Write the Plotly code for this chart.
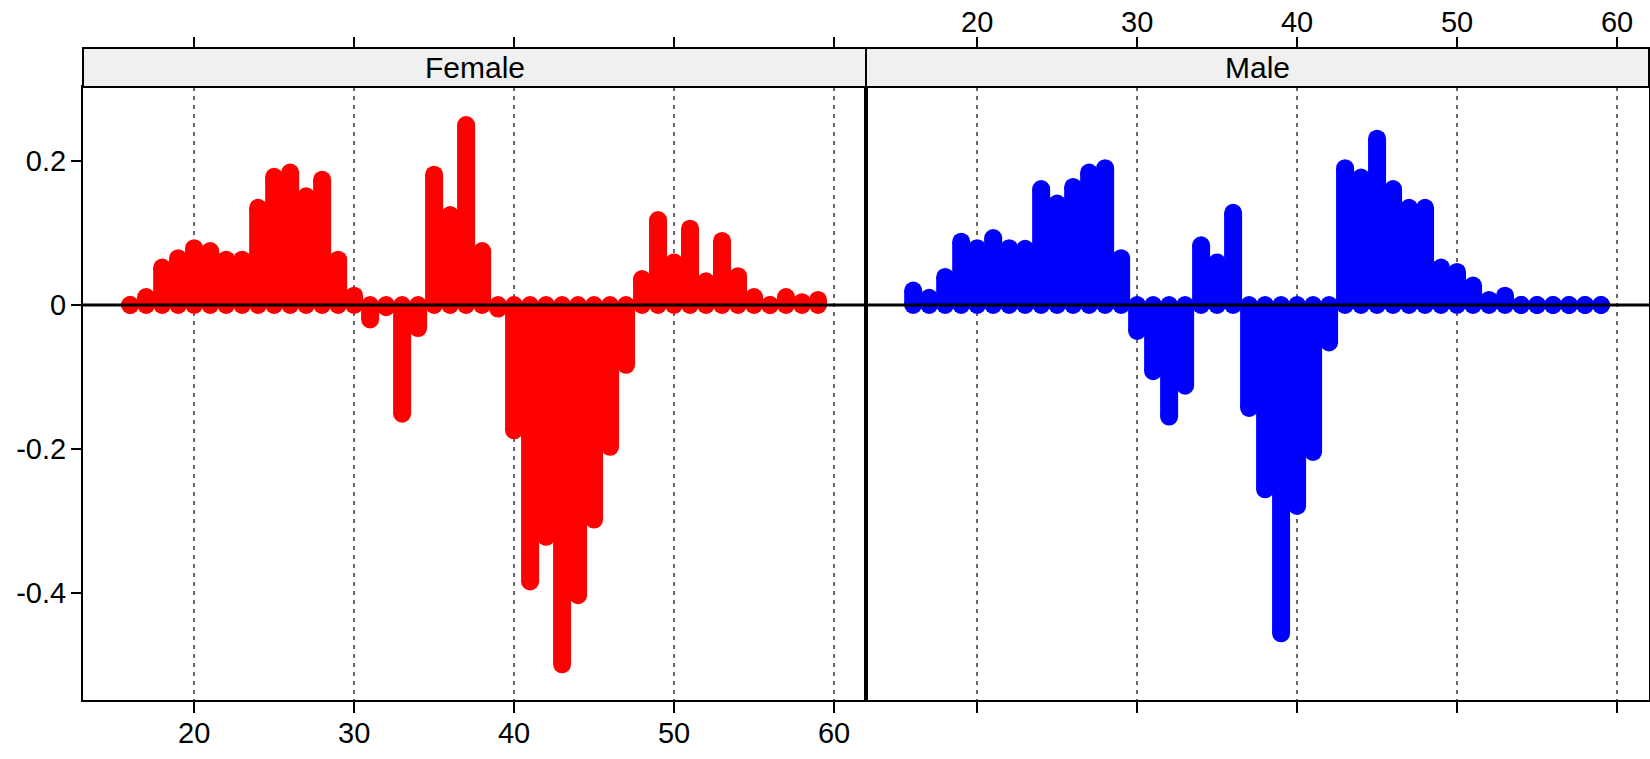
import plotly.graph_objects as go

# Age values shared by both panels
ages = list(range(16, 60))

# Per-age values, one list per panel
female = [0.0, 0.011, 0.052, 0.065, 0.079, 0.075, 0.063, 0.063, 0.135, 0.178,
          0.184, 0.151, 0.174, 0.063, 0.013, -0.020, -0.003, -0.151, -0.032, 0.181,
          0.125, 0.250, 0.075, -0.005, -0.174, -0.384, -0.322, -0.499, -0.403, -0.298,
          -0.197, -0.083, 0.036, 0.118, 0.059, 0.106, 0.033, 0.089, 0.040, 0.011,
          0.0, 0.011, 0.004, 0.007]
male = [0.020, 0.010, 0.039, 0.088, 0.079, 0.093, 0.079, 0.078, 0.161, 0.141,
        0.164, 0.184, 0.190, 0.065, -0.036, -0.092, -0.155, -0.112, 0.083, 0.059,
        0.128, -0.143, -0.256, -0.456, -0.279, -0.204, -0.052, 0.190, 0.177, 0.231,
        0.161, 0.135, 0.135, 0.052, 0.046, 0.027, 0.007, 0.013, 0.0, 0.0,
        0.0, 0.0, 0.0, 0.0]

panel_names = ["Female", "Male"]
x_ticks = [20, 30, 40, 50, 60]
x_tick_text = ["20", "30", "40", "50", "60"]
y_ticks = [-0.4, -0.2, 0, 0.2]
y_tick_text = ["-0.4", "-0.2", "0", "0.2"]

X_RANGE = [13.05, 62.0]
Y_RANGE = [-0.5486, 0.3028]
PANEL_TOP = 0.9402          # top of the data region, strip sits above
FONT = "Liberation Sans, Arial, Helvetica, sans-serif"
STEM_W = 18


def stems(xs, ys):
    """Vertical segments from 0 to each value, separated by gaps."""
    sx, sy = [], []
    for x, y in zip(xs, ys):
        sx += [x, x, None]
        sy += [0, y, None]
    return sx, sy


fig = go.Figure()

for i, (vals, col) in enumerate([(female, "#ff0000"), (male, "#0000ff")]):
    sx, sy = stems(ages, vals)
    sfx = "" if i == 0 else "2"
    fig.add_trace(go.Scatter(
        x=sx, y=sy, mode="lines+markers",
        line=dict(color=col, width=STEM_W),
        marker=dict(color=col, size=STEM_W, line=dict(width=0)),
        connectgaps=False, showlegend=False, hoverinfo="skip",
        xaxis="x" + sfx, yaxis="y" + sfx,
    ))

# invisible anchors so the top tick axes are laid out
for xa, ya in [("x3", "y"), ("x4", "y2")]:
    fig.add_trace(go.Scatter(
        x=[x_ticks[0]], y=[0], mode="markers", marker=dict(opacity=0),
        showlegend=False, hoverinfo="skip", xaxis=xa, yaxis=ya,
    ))

tick_font = dict(family=FONT, size=29, color="black")

common_x = dict(
    range=X_RANGE, tickmode="array", tickvals=x_ticks, ticktext=x_tick_text,
    ticks="outside", ticklen=11, tickwidth=2, tickcolor="black",
    showline=True, mirror=True, linecolor="black", linewidth=2,
    showgrid=True, gridcolor="#686868", gridwidth=2, griddash="4px,5px",
    zeroline=False, tickfont=tick_font, automargin=False,
)
common_y = dict(
    range=Y_RANGE, domain=[0, PANEL_TOP],
    showline=True, mirror=True, linecolor="black", linewidth=2,
    showgrid=False, zeroline=False, tickfont=tick_font, automargin=False,
)
top_x = dict(
    range=X_RANGE, tickmode="array", tickvals=x_ticks, ticktext=x_tick_text,
    side="top", anchor="free", position=1.0,
    ticks="outside", ticklen=11, tickwidth=2, tickcolor="black",
    showline=False, showgrid=False, zeroline=False, tickfont=tick_font,
    automargin=False, ticklabelstandoff=-7,
)

fig.update_layout(
    width=1650, height=759, autosize=False,
    margin=dict(l=83, r=1, t=48, b=59),
    paper_bgcolor="white", plot_bgcolor="white",
    xaxis=dict(domain=[0, 0.5], anchor="y", showticklabels=True,
               ticklabelstandoff=-5, **common_x),
    xaxis2=dict(domain=[0.5, 1.0], anchor="y2", showticklabels=False, **common_x),
    yaxis=dict(anchor="x", tickmode="array", tickvals=y_ticks, ticktext=y_tick_text,
               ticks="outside", ticklen=10, tickwidth=2, tickcolor="black",
               ticklabelstandoff=-1, **common_y),
    yaxis2=dict(anchor="x2", showticklabels=False, ticks="", **common_y),
    xaxis3=dict(overlaying="x", showticklabels=False, **top_x),
    xaxis4=dict(overlaying="x2", showticklabels=True, **top_x),
)

shapes = []
annotations = []
for sfx, name in zip(["", "2"], panel_names):
    # zero reference line drawn over the stems
    shapes.append(dict(type="line", xref="x" + sfx + " domain", x0=0, x1=1,
                       yref="y" + sfx, y0=0, y1=0,
                       line=dict(color="black", width=3), layer="above"))
    # strip with panel label
    shapes.append(dict(type="rect", xref="x" + sfx + " domain", x0=0, x1=1,
                       yref="paper", y0=PANEL_TOP, y1=1.0,
                       fillcolor="#f0f0f0", line=dict(color="black", width=2),
                       layer="above"))
    annotations.append(dict(text=name, xref="x" + sfx + " domain", x=0.5,
                            yref="paper", y=(PANEL_TOP + 1.0) / 2,
                            xanchor="center", yanchor="middle", showarrow=False,
                            font=dict(family=FONT, size=30, color="black")))

fig.update_layout(shapes=shapes, annotations=annotations)

fig.write_html("out.html")
